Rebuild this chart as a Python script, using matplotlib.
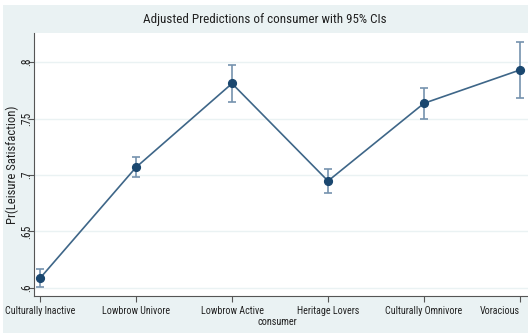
import matplotlib
matplotlib.use("Agg")
import matplotlib.pyplot as plt
from matplotlib.patches import Rectangle
from matplotlib import font_manager
from matplotlib.font_manager import FontProperties

categories = ["Culturally Inactive", "Lowbrow Univore", "Lowbrow Active",
              "Heritage Lovers", "Culturally Omnivore", "Voracious"]
margins = [0.6086, 0.7068, 0.7810, 0.6947, 0.7635, 0.7930]
ci_low = [0.6006, 0.6980, 0.7645, 0.6840, 0.7495, 0.7680]
ci_high = [0.6165, 0.7160, 0.7970, 0.7055, 0.7770, 0.8180]
yticks = [0.6, 0.65, 0.7, 0.75, 0.8]
ytick_labels = [".6", ".65", ".7", ".75", ".8"]

plt.rcParams['font.family'] = ['Liberation Sans', 'DejaVu Sans']

# pick a condensed sans face if one is installed (reference uses narrow Helvetica)
prefs = ["Liberation Sans Narrow", "Roboto Condensed", "Noto Sans", "Open Sans",
         "DejaVu Sans", "Roboto"]
cands = []
for f in font_manager.fontManager.ttflist:
    st = str(f.stretch)
    if f.style == "normal" and f.weight in (400, "normal", "regular") and \
            (st in ("condensed", "semi-condensed") or "Narrow" in f.name or "Condensed" in f.name):
        rank = prefs.index(f.name) if f.name in prefs else len(prefs)
        srank = 0 if st == "condensed" or "Narrow" in f.name else 1
        cands.append((rank, srank, f.fname))
cands.sort()
if cands:
    cfont = FontProperties(fname=cands[0][2])
else:
    cfont = FontProperties(family=['Liberation Sans', 'DejaVu Sans'])

W, H = 528, 333
fig = plt.figure(figsize=(W / 100, H / 100), dpi=100)
fig.patch.set_facecolor("white")
bg = "#EAF2F3"
fig.patches.append(Rectangle((3 / W, 0), 1, 1 - 5 / H, transform=fig.transFigure,
                             facecolor=bg, edgecolor="none", zorder=-10))

ax = fig.add_axes([34 / W, (H - 296) / H, 1 - 34 / W, (296 - 33) / H])
ax.set_facecolor("white")

x = list(range(len(categories)))
navy = "#1A476F"
cicol = "#7592AE"
yerr = [[m - lo for m, lo in zip(margins, ci_low)],
        [hi - m for m, hi in zip(margins, ci_high)]]
ax.errorbar(x, margins, yerr=yerr, fmt="none", ecolor=cicol, elinewidth=1.2,
            capsize=2.6, capthick=1.2, zorder=2)
ax.plot(x, margins, color="#3E6688", lw=1.2, zorder=3)
ax.plot(x, margins, "o", color=navy, ms=5.6, zorder=4)

ax.set_xlim(-0.0625, 5.083)
ax.set_ylim(0.5929, 0.8257)
ax.set_yticks(yticks)
ax.set_yticklabels(ytick_labels, rotation=90, va="center", ha="center")
ax.set_xticks(x)
ax.set_xticklabels(categories)
ax.get_xticklabels()[-1].set_ha("right")
ax.grid(axis="y", color=bg, lw=1.0)
ax.set_axisbelow(True)

for s in ["top", "right"]:
    ax.spines[s].set_visible(False)
for s in ["left", "bottom"]:
    ax.spines[s].set_color("#555555")
    ax.spines[s].set_linewidth(0.8)
ax.tick_params(axis="both", direction="out", length=4, width=0.8, color="#555555",
               labelcolor="#222222")
ax.tick_params(axis="x", pad=3)
ax.tick_params(axis="y", pad=1)

title = fig.text(265 / W, 1 - 20 / H, "Adjusted Predictions of consumer with 95% CIs",
                 ha="center", va="center", fontsize=9.5, color="#222222")
xlab = fig.text(277 / W, 1 - 322 / H, "consumer", ha="center", va="center",
                fontsize=8, color="#222222")
ylab = fig.text(12 / W, 1 - 165 / H, "Pr(Leisure Satisfaction)", ha="center",
                va="center", rotation=90, fontsize=8, color="#222222")
for t in [title, xlab, ylab] + ax.get_xticklabels() + ax.get_yticklabels():
    t.set_fontproperties(cfont.copy())

fig.canvas.draw()
r = fig.canvas.get_renderer()

def fit(t, target, vertical=False):
    bb = t.get_window_extent(r)
    cur = bb.height if vertical else bb.width
    t.set_fontsize(t.get_fontsize() * target / cur)

fit(title, 241)
fit(xlab, 40)
fit(ylab, 117, vertical=True)
lbl = ax.get_xticklabels()[1]
tsize = lbl.get_fontsize() * 68 / lbl.get_window_extent(r).width
for t in ax.get_xticklabels():
    t.set_fontsize(tsize)
for t in ax.get_yticklabels():
    t.set_fontsize(tsize * 1.15)

fig.savefig("out.png", dpi=100, facecolor=fig.get_facecolor())
